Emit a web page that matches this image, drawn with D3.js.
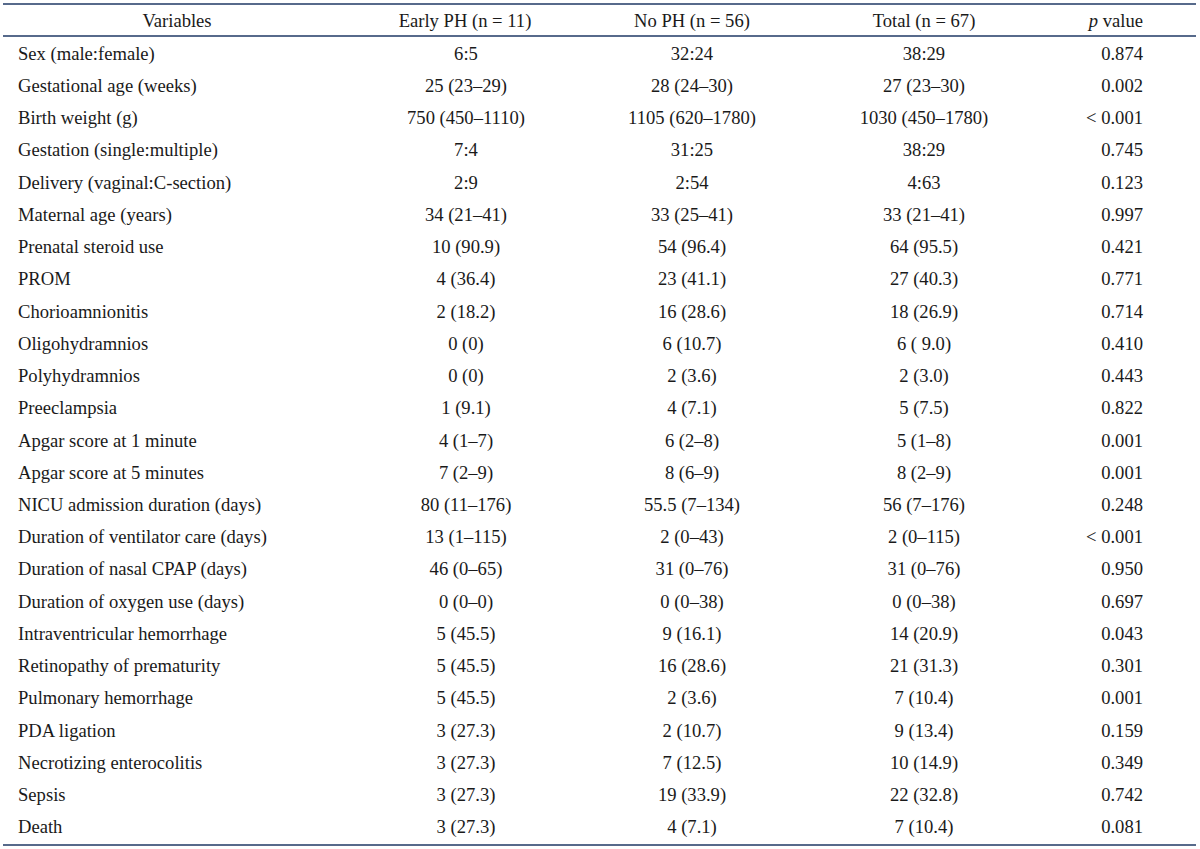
<!DOCTYPE html>
<html>
<head>
<meta charset="utf-8">
<script src="https://cdn.jsdelivr.net/npm/d3@7"></script>
<style>
html,body{margin:0;padding:0;background:#fff;}
svg{display:block;}
</style>
</head>
<body>
<svg id="chart" width="1200" height="849"></svg>
<script>
const headers = ["Variables", "Early PH (n = 11)", "No PH (n = 56)", "Total (n = 67)", "p value"];
const variables = ["Sex (male:female)","Gestational age (weeks)","Birth weight (g)","Gestation (single:multiple)","Delivery (vaginal:C-section)","Maternal age (years)","Prenatal steroid use","PROM","Chorioamnionitis","Oligohydramnios","Polyhydramnios","Preeclampsia","Apgar score at 1 minute","Apgar score at 5 minutes","NICU admission duration (days)","Duration of ventilator care (days)","Duration of nasal CPAP (days)","Duration of oxygen use (days)","Intraventricular hemorrhage","Retinopathy of prematurity","Pulmonary hemorrhage","PDA ligation","Necrotizing enterocolitis","Sepsis","Death"];
const earlyPH = ["6:5","25 (23–29)","750 (450–1110)","7:4","2:9","34 (21–41)","10 (90.9)","4 (36.4)","2 (18.2)","0 (0)","0 (0)","1 (9.1)","4 (1–7)","7 (2–9)","80 (11–176)","13 (1–115)","46 (0–65)","0 (0–0)","5 (45.5)","5 (45.5)","5 (45.5)","3 (27.3)","3 (27.3)","3 (27.3)","3 (27.3)"];
const noPH = ["32:24","28 (24–30)","1105 (620–1780)","31:25","2:54","33 (25–41)","54 (96.4)","23 (41.1)","16 (28.6)","6 (10.7)","2 (3.6)","4 (7.1)","6 (2–8)","8 (6–9)","55.5 (7–134)","2 (0–43)","31 (0–76)","0 (0–38)","9 (16.1)","16 (28.6)","2 (3.6)","2 (10.7)","7 (12.5)","19 (33.9)","4 (7.1)"];
const total = ["38:29","27 (23–30)","1030 (450–1780)","38:29","4:63","33 (21–41)","64 (95.5)","27 (40.3)","18 (26.9)","6 ( 9.0)","2 (3.0)","5 (7.5)","5 (1–8)","8 (2–9)","56 (7–176)","2 (0–115)","31 (0–76)","0 (0–38)","14 (20.9)","21 (31.3)","7 (10.4)","9 (13.4)","10 (14.9)","22 (32.8)","7 (10.4)"];
const pValues = ["0.874","0.002","< 0.001","0.745","0.123","0.997","0.421","0.771","0.714","0.410","0.443","0.822","0.001","0.001","0.248","< 0.001","0.950","0.697","0.043","0.301","0.001","0.159","0.349","0.742","0.081"];

const svg = d3.select("#chart");
const font = "'Liberation Serif', 'Times New Roman', serif";
const fs = 18.6;
const lineColor = "#1f3864";
const textColor = "#1a1a1a";

const y = d3.scaleBand().domain(d3.range(variables.length)).range([37, 843]).paddingInner(0).paddingOuter(0);

const cols = [
  {x: 18, anchor: "start", data: variables},
  {x: 466, anchor: "middle", data: earlyPH},
  {x: 692, anchor: "middle", data: noPH},
  {x: 924, anchor: "middle", data: total},
  {x: 1143, anchor: "end", data: pValues}
];
const headerX = [177, 465, 692, 924, 1143];
const headerAnchor = ["middle","middle","middle","middle","end"];

// rules
[4, 36, 845].forEach(yy => {
  svg.append("line").attr("x1",3).attr("x2",1196).attr("y1",yy).attr("y2",yy)
    .attr("stroke",lineColor).attr("stroke-width",1.6);
});

// header
const hg = svg.append("g");
headers.forEach((h,i)=>{
  const t = hg.append("text").attr("x",headerX[i]).attr("y",20).attr("dy","0.35em")
    .attr("text-anchor",headerAnchor[i]).attr("font-family",font).attr("font-size",fs).attr("fill",textColor);
  if (i===4){
    t.append("tspan").attr("font-style","italic").text("p");
    t.append("tspan").text(" value");
  } else t.text(h);
});

// body
cols.forEach(c=>{
  svg.append("g").selectAll("text").data(c.data).join("text")
    .attr("x", c.x)
    .attr("y", (d,i)=> y(i) + y.bandwidth()/2)
    .attr("dy","0.35em")
    .attr("text-anchor", c.anchor)
    .attr("font-family", font)
    .attr("font-size", fs)
    .attr("fill", textColor)
    .style("white-space","pre")
    .text(d=>d);
});
</script>
</body>
</html>
